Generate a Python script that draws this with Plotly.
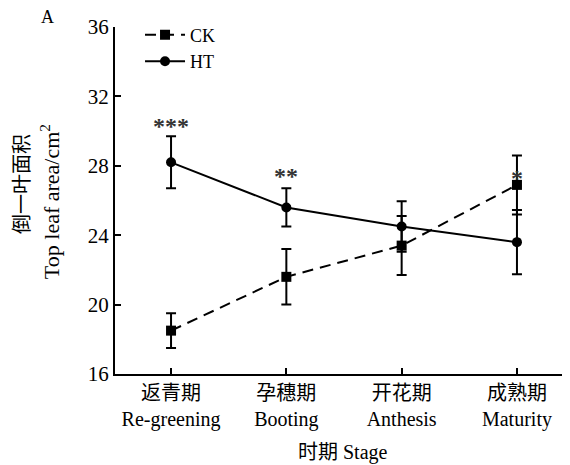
import plotly.graph_objects as go

stages = ["返青期<br>Re-greening", "孕穗期<br>Booting", "开花期<br>Anthesis", "成熟期<br>Maturity"]
ck_mean = [18.5, 21.6, 23.4, 26.9]
ck_err = [1.0, 1.6, 1.7, 1.7]
ht_mean = [28.2, 25.6, 24.5, 23.6]
ht_err = [1.5, 1.1, 1.45, 1.85]
sig_labels = ["***", "**", "", "*"]
sig_y = [30.3, 27.4, None, 27.3]

FONT = "Liberation Serif, Times New Roman, Noto Sans CJK SC, serif"

fig = go.Figure()
fig.add_trace(go.Scatter(
    x=stages, y=ck_mean, name="CK", mode="lines+markers",
    line=dict(color="black", width=2, dash="11px,7px"),
    marker=dict(symbol="square", size=10, color="black"),
    error_y=dict(type="data", array=ck_err, color="black", thickness=2, width=5),
))
fig.add_trace(go.Scatter(
    x=stages, y=ht_mean, name="HT", mode="lines+markers",
    line=dict(color="black", width=2),
    marker=dict(symbol="circle", size=10, color="black"),
    error_y=dict(type="data", array=ht_err, color="black", thickness=2, width=5),
))

for s, lab, yy in zip(stages, sig_labels, sig_y):
    if lab:
        fig.add_annotation(x=s, y=yy, text="<b>" + lab + "</b>", showarrow=False,
                           font=dict(size=24, color="#333333", family=FONT))

# panel letter and axis titles
def note(x, y, text, size, angle=0):
    fig.add_annotation(xref="paper", yref="paper", x=x, y=y, text=text,
                       xanchor="center", yanchor="middle", textangle=angle,
                       showarrow=False, font=dict(size=size, color="black", family=FONT))

note(-0.149, 1.03, "A", 18)
note(-0.204, 0.548, "倒一叶面积", 20, -90)
note(-0.143, 0.498, "Top leaf area/cm<sup>2</sup>", 22, -90)
note(0.501, -0.225, "时期 Stage", 20)

fig.update_layout(
    width=562, height=457,
    margin=dict(l=107, r=0, t=19, b=91, autoexpand=False),
    plot_bgcolor="white", paper_bgcolor="white",
    font=dict(family=FONT, size=20, color="black"),
    legend=dict(x=0.055, y=1.03, xanchor="left", yanchor="top",
                bgcolor="rgba(0,0,0,0)", font=dict(size=18),
                itemwidth=40, tracegroupgap=0),
)
fig.update_xaxes(
    type="category", range=[-0.486, 3.46], automargin=False,
    showline=True, linecolor="black", linewidth=2,
    ticks="inside", ticklen=6, tickwidth=2, tickcolor="black",
    showgrid=False, zeroline=False,
    tickfont=dict(size=20),
)
fig.update_yaxes(
    range=[16, 36], tickvals=[16, 20, 24, 28, 32, 36], automargin=False,
    showline=True, linecolor="black", linewidth=2,
    ticks="inside", ticklen=6, tickwidth=2, tickcolor="black",
    showgrid=False, zeroline=False,
    tickfont=dict(size=21),
)

fig.write_html("out.html")
